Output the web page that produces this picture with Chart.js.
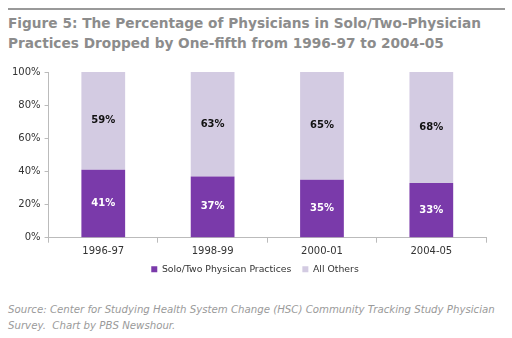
<!DOCTYPE html>
<html>
<head>
<meta charset="utf-8">
<script src="https://cdn.jsdelivr.net/npm/chart.js@4/dist/chart.umd.min.js"></script>
<style>
  body { margin:0; background:#fff; width:512px; height:338px; overflow:hidden; position:relative; font-family:"DejaVu Sans", Verdana, sans-serif; }
  .rule { position:absolute; left:8px; right:7px; top:8px; height:2px; background:#999; }
  .title { position:absolute; left:8px; top:13px; font-size:13.7px; font-weight:bold; color:#8c8c8c; line-height:20px; white-space:nowrap; }
  .source { position:absolute; left:8px; top:302px; font-size:10.2px; font-style:italic; color:#9a9a9a; line-height:16px; white-space:nowrap; }
  .wrap { position:absolute; left:0; top:62px; width:512px; height:229px; }
</style>
</head>
<body>
<div class="rule"></div>
<div class="title">Figure 5: The Percentage of Physicians in Solo/Two-Physician<br>Practices Dropped by One-fifth from 1996-97 to 2004-05</div>
<div class="wrap"><canvas id="c"></canvas></div>
<div class="source">Source: Center for Studying Health System Change (HSC) Community Tracking Study Physician<br>Survey.&nbsp; Chart by PBS Newshour.</div>
<script>
// ---- data ----
const periods = ['1996-97', '1998-99', '2000-01', '2004-05'];
const soloTwo = [41, 37, 35, 33];
const allOthers = [59, 63, 65, 68];
const yTicks = [0, 20, 40, 60, 80, 100];

const PURPLE = '#7a3aaa';
const LAVENDER = '#d3cbe2';
const FONT = '"DejaVu Sans", Verdana, sans-serif';

// write the % value in the middle of each segment
const segLabels = {
  id: 'segLabels',
  afterDatasetsDraw(chart) {
    const ctx = chart.ctx;
    ctx.save();
    ctx.font = 'bold 10px ' + FONT;
    ctx.textAlign = 'center';
    ctx.textBaseline = 'middle';
    chart.data.datasets.forEach((ds, di) => {
      chart.getDatasetMeta(di).data.forEach((bar, i) => {
        const top = Math.max(bar.y, chart.chartArea.top);
        ctx.fillStyle = di === 0 ? '#fff' : '#111';
        ctx.fillText(ds.data[i] + '%', bar.x, (top + bar.base) / 2);
      });
    });
    ctx.restore();
  }
};

// nudge the legend up towards the axis labels and a bit right, as in the original
const legendNudge = {
  id: 'legendNudge',
  afterLayout(chart) {
    const lg = chart.legend;
    lg.top -= 7; lg.bottom -= 7;
    lg.left += 8; lg.right += 8;
  }
};

new Chart(document.getElementById('c'), {
  type: 'bar',
  data: {
    labels: periods,
    datasets: [
      { label: 'Solo/Two Physican Practices', data: soloTwo, backgroundColor: PURPLE, clip: 0 },
      { label: 'All Others', data: allOthers, backgroundColor: LAVENDER, clip: 0 }
    ]
  },
  options: {
    responsive: true,
    maintainAspectRatio: false,
    animation: false,
    layout: { padding: { left: 8, right: 26, top: 10, bottom: 0 } },
    datasets: { bar: { categoryPercentage: 1, barPercentage: 0.4 } },
    plugins: {
      legend: {
        position: 'bottom',
        labels: { boxWidth: 6, boxHeight: 6, color: '#333', font: { size: 9.3, family: FONT }, padding: 11 }
      },
      tooltip: { enabled: false }
    },
    scales: {
      x: {
        stacked: true,
        grid: { drawOnChartArea: false, color: '#bbb', tickLength: 5, offset: true },
        border: { color: '#bbb' },
        ticks: { color: '#333', font: { size: 10, family: FONT }, padding: 3 }
      },
      y: {
        stacked: true,
        min: 0, max: 100,
        afterBuildTicks: s => { s.ticks = yTicks.map(v => ({ value: v })); },
        grid: { drawOnChartArea: false, color: '#bbb', tickLength: 4 },
        border: { color: '#bbb' },
        ticks: { color: '#333', font: { size: 10, family: FONT }, padding: 4, callback: v => v + '%' }
      }
    }
  },
  plugins: [segLabels, legendNudge]
});
</script>
</body>
</html>
